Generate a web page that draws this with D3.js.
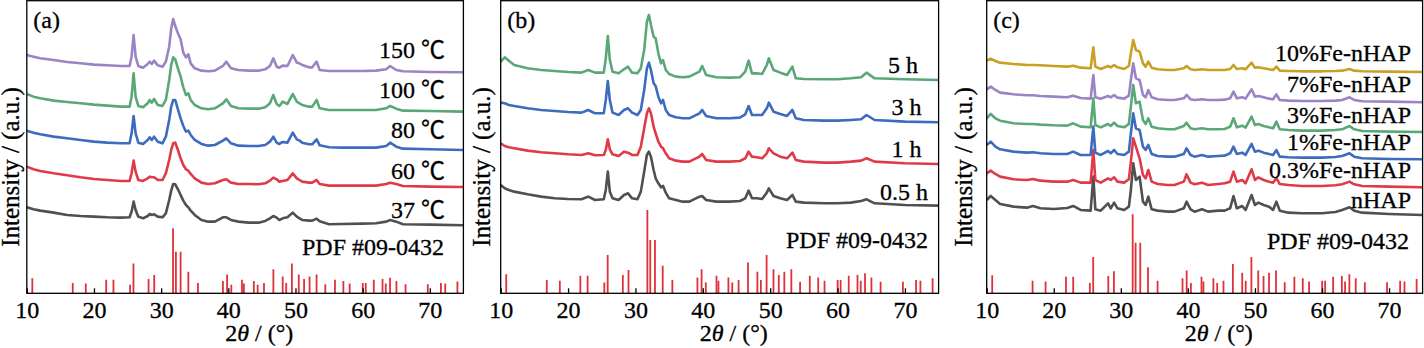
<!DOCTYPE html>
<html><head><meta charset="utf-8">
<script src="https://cdn.jsdelivr.net/npm/d3@7"></script>
<style>
html,body{margin:0;padding:0;background:#fff;}
svg{display:block;}
text{font-family:"Liberation Serif","Times New Roman","Noto Sans CJK SC",serif;fill:#000;stroke:#000;stroke-width:0.3px;}
</style></head><body>
<svg id="chart" width="1424" height="348"></svg>
<script>
// ---------------- DATA ----------------
const xTicks = [10, 20, 30, 40, 50, 60, 70];
const panelTags = ["(a)", "(b)", "(c)"];
const refLabel = "PDF #09-0432";

// Panel (a): synthesis temperature
const twoThetaA = [10,11,12,14,16,18,20,22,24,25.3,25.6,25.9,26.2,26.6,27.3,28.0,28.3,28.6,28.95,29.5,30.2,30.7,31.2,31.5,31.8,32.1,32.5,32.9,33.3,33.7,34.05,34.4,35,36,37,38,39.2,39.7,40.4,41.5,43,44.5,45.5,46.2,46.7,47.2,47.6,48.1,48.8,49.6,50.2,50.6,51,52,52.5,53.15,53.6,55,57,60,62,63.5,64.1,65,66,70,75];
const labelsA = ["37 \u2103", "60 \u2103", "80 \u2103", "100 \u2103", "150 \u2103"];
const a37 = [258,252,248,242,235,232,230,228,227,228,245,275,250,230,225,232,238,235,237,230,228,240,280,308,328,327,312,295,278,265,258,248,235,220,215,215,228,228,220,215,212,212,217,225,232,227,220,225,228,242,230,225,220,218,218,224,216,207,208,209,210,215,220,215,207,206,204];
const a60 = [380,372,367,360,354,348,343,340,337,337,360,398,365,340,337,345,350,348,348,340,340,360,400,430,450,452,430,405,385,372,368,358,345,332,328,330,340,342,332,328,328,327,330,338,347,342,335,337,340,360,345,340,335,332,332,340,328,323,323,323,323,328,332,328,322,320,319];
const a80 = [488,482,477,470,465,460,455,452,450,450,480,532,480,452,448,460,468,460,470,455,450,470,520,560,580,580,552,525,502,485,488,475,460,448,443,445,458,465,450,443,442,442,445,455,470,452,448,454,452,482,462,458,452,447,447,462,444,438,437,437,437,442,452,440,434,432,430];
const a100 = [598,590,585,578,574,570,566,563,560,560,590,660,590,562,558,570,580,572,583,565,562,580,640,685,708,702,675,650,618,595,600,580,565,555,552,555,570,582,562,555,554,554,558,570,595,568,562,575,568,598,575,570,565,560,560,580,555,550,550,550,550,555,562,554,548,547,545];
const a150 = [715,710,705,700,694,690,686,684,682,682,710,775,710,682,677,688,695,688,698,684,680,695,740,795,823,802,780,762,722,708,717,690,675,668,666,668,682,695,675,670,668,668,672,682,705,680,677,683,682,715,692,690,685,678,678,695,670,667,667,667,668,672,682,670,666,664,663];

// Panel (b): reaction time
const twoThetaB = [10,10.6,11.2,12,14,16,18,20,22,23,24,25.3,25.6,25.9,26.2,26.6,27.5,28.3,28.9,29.5,30.3,30.8,31.3,31.7,32.0,32.3,32.7,33.0,33.4,33.8,34.1,34.5,35,36,37,38,39.5,39.9,40.5,42,44,45.5,46.3,46.8,47.3,48,48.8,49.5,49.8,50.5,51.5,52.5,53.3,53.8,55,58,60,62,63.5,64.3,65.5,70,75];
const labelsB = ["0.5 h", "1 h", "3 h", "5 h"];
const b05 = [325,315,310,305,297,290,285,283,282,290,280,282,310,365,305,285,280,295,300,285,282,305,365,415,425,410,370,345,330,318,322,302,285,280,275,275,290,292,280,275,275,277,285,308,285,285,283,302,315,292,285,280,295,275,272,270,270,272,277,282,270,265,263];
const b1 = [450,442,438,435,428,423,420,417,415,420,414,415,430,462,432,417,412,425,422,415,415,440,495,540,555,540,500,480,455,440,435,420,405,398,395,395,410,418,400,395,395,397,405,425,410,408,405,420,435,420,410,405,422,400,395,392,392,395,398,405,395,390,388];
const b3 = [572,570,565,562,555,550,547,544,542,550,540,540,580,637,580,542,535,550,555,542,535,550,610,675,692,670,630,622,590,570,580,550,535,528,525,525,540,550,532,525,525,527,537,562,535,535,535,555,572,545,538,532,550,525,520,518,518,520,522,535,520,515,513];
const b5 = [695,708,698,685,675,670,667,664,662,670,662,662,705,772,700,665,660,672,680,662,660,675,730,815,835,805,770,765,720,690,700,670,658,650,648,650,665,682,655,648,647,648,665,698,660,660,658,685,705,670,662,655,680,645,643,642,642,645,648,662,645,642,640];

// Panel (c): Fe doping
const twoThetaC = [10,10.6,11.3,12,14,16,16.9,18,20,22,22.9,24,25.5,25.9,26.2,27,28.1,28.5,29.0,29.5,30.5,31.2,31.5,31.85,32.25,32.8,33.3,33.7,34.1,34.6,35.5,37,38,39.4,39.8,40.4,41,42.1,43,44.5,45.5,46.3,46.8,47.3,48.1,48.6,49.5,50.0,50.5,51.3,52.1,52.7,53.2,53.7,55,57,60,62,63,64.1,64.8,66,70,75];
const labelsC = ["nHAP", "0.3%Fe-nHAP", "1%Fe-nHAP", "3%Fe-nHAP", "7%Fe-nHAP", "10%Fe-nHAP"];
const c0 = [280,292,280,268,260,257,262,255,253,256,262,250,248,350,252,248,270,255,272,255,250,260,310,390,340,350,275,265,290,252,248,245,245,255,275,252,245,252,245,248,248,255,292,255,262,250,295,265,272,265,260,250,275,248,242,240,240,244,250,258,248,242,238,235];
const c03 = [360,368,358,350,342,340,343,338,335,335,340,332,332,430,340,332,345,340,348,335,332,342,395,465,440,405,355,345,370,335,328,325,325,335,357,332,327,332,325,328,330,335,365,335,340,330,372,340,348,340,335,332,345,328,325,322,322,324,327,335,327,322,320,318];
const c1 = [445,455,440,432,425,422,423,420,418,418,425,415,415,500,422,415,427,420,430,418,415,425,480,540,495,490,440,430,445,418,412,410,410,418,435,415,410,415,410,412,413,420,440,418,422,415,448,425,428,422,418,415,430,410,408,407,407,409,412,420,410,405,403,402];
const c3 = [525,538,525,518,510,508,508,506,504,503,510,500,498,585,505,498,508,502,512,502,498,508,560,625,570,575,520,508,525,500,495,492,492,502,512,495,492,495,492,492,493,500,525,498,503,497,530,505,508,502,498,495,515,492,490,488,488,490,492,502,492,487,485,484];
const c7 = [612,620,610,602,597,594,594,592,590,588,593,586,584,655,588,584,592,588,595,587,584,593,640,690,645,640,595,588,610,588,582,580,580,585,595,582,580,582,580,580,581,585,605,585,588,584,612,590,592,588,584,582,597,580,578,577,577,578,580,588,580,576,575,573];
const c10 = [698,704,697,692,688,685,685,684,682,680,683,677,675,738,680,673,682,678,685,678,673,682,720,760,730,725,690,680,695,677,672,670,670,675,682,672,670,672,670,670,670,673,685,673,675,672,692,677,678,675,672,670,680,668,667,666,666,667,668,673,668,666,665,664];

// Reference pattern PDF #09-0432 (relative intensity, %)
const pdfPositions = [10.82,16.84,18.78,21.82,22.90,25.38,25.88,28.13,28.97,31.77,32.20,32.90,34.05,35.48,39.20,39.82,40.45,42.03,42.32,43.80,44.37,45.31,46.71,48.10,48.62,49.47,50.49,51.28,52.10,53.14,54.44,55.88,57.13,58.07,60.02,60.46,61.66,62.96,63.44,64.08,65.03,66.39,69.70,71.65,72.30,74.11];
const pdfIntensities = [23,16,15,21,21,13,46,22,28,100,64,64,33,16,19,29,13,21,15,19,13,16,37,26,16,46,29,22,26,29,14,21,19,15,16,16,21,22,15,24,19,14,14,16,15,18];
// a.u. height of the 100 % reference line in each panel
const pdfFullScale = [195, 250, 237];

// ---------------- DRAWING ----------------
const svg = d3.select("#chart");
const colorsA = ["#505050", "#e03a48", "#3d6bbf", "#5aa877", "#9a84c3"];
const colorsB = ["#505050", "#e03a48", "#3d6bbf", "#5aa877"];
const colorsC = ["#505050", "#e03a48", "#3d6bbf", "#5aa877", "#9a84c3", "#c9a023"];
const stickColor = "#e0303a";

const panels = [
  { tag: panelTags[0], x0: 26.8, x1: 463.4, theta: twoThetaA, series: [a37, a60, a80, a100, a150], labels: labelsA, colors: colorsA,
    labelX: [445, 445, 445, 445, 445], labelY: [218.3, 179, 138.3, 98.3, 58.3], pdfX: 444, pdfY: 255, yTitleX: 18.5 },
  { tag: panelTags[1], x0: 500.7, x1: 938.6, theta: twoThetaB, series: [b05, b1, b3, b5], labels: labelsB, colors: colorsB,
    labelX: [928, 921.5, 921.5, 918], labelY: [200, 156.7, 115, 73.3], pdfX: 928, pdfY: 248.3, yTitleX: 490 },
  { tag: panelTags[2], x0: 986.7, x1: 1422.6, theta: twoThetaC, series: [c0, c03, c1, c3, c7, c10], labels: labelsC, colors: colorsC,
    labelX: [1411, 1411, 1411, 1411, 1411, 1411], labelY: [208.3, 178.3, 150, 122.7, 91.7, 61.3], pdfX: 1409, pdfY: 249, yTitleX: 972 }
];

const yBottom = 293.3, yTop = 0;
const y = d3.scaleLinear().domain([0, 880]).range([yBottom, yTop]);

panels.forEach((p, pi) => {
  const x = d3.scaleLinear().domain([10, 75]).range([p.x0, p.x1]);
  const g = svg.append("g");
  const clipId = "clip" + pi;
  svg.append("clipPath").attr("id", clipId).append("rect")
    .attr("x", p.x0).attr("y", 0.7).attr("width", p.x1 - p.x0).attr("height", yBottom - 0.7);

  // reference sticks
  const sy = d3.scaleLinear().domain([0, 100]).range([0, pdfFullScale[pi]]);
  g.append("g").attr("clip-path", `url(#${clipId})`)
    .selectAll("line").data(pdfPositions.map((t, i) => [t, pdfIntensities[i]])).join("line")
    .attr("x1", d => x(d[0])).attr("x2", d => x(d[0]))
    .attr("y1", y(0)).attr("y2", d => y(sy(d[1])))
    .attr("stroke", stickColor).attr("stroke-width", 1.8);

  // patterns
  const line = d3.line().x(d => x(d[0])).y(d => y(d[1]));
  const curves = g.append("g").attr("clip-path", `url(#${clipId})`);
  p.series.forEach((s, si) => {
    curves.append("path")
      .datum(p.theta.map((t, i) => [t, s[i]]))
      .attr("d", line)
      .attr("fill", "none")
      .attr("stroke", p.colors[si])
      .attr("stroke-width", 2.6)
      .attr("stroke-linejoin", "round");
  });

  // axis ticks + labels
  const ax = g.append("g").attr("transform", `translate(0,${yBottom})`)
    .call(d3.axisBottom(x).tickValues(xTicks).tickSizeInner(-5).tickSizeOuter(0).tickFormat(d3.format("d")));
  ax.select(".domain").remove();
  ax.selectAll(".tick line").attr("stroke", "#000").attr("stroke-width", 1.3);
  ax.selectAll(".tick text").attr("y", 25).attr("dy", null)
    .style("font-family", '"Liberation Serif","Times New Roman",serif').style("font-size", "24px").attr("fill", "#000");

  // frame
  g.append("rect").attr("x", p.x0).attr("y", 0.7).attr("width", p.x1 - p.x0).attr("height", yBottom - 0.7)
    .attr("fill", "none").attr("stroke", "#000").attr("stroke-width", 1.3);

  // panel tag
  g.append("text").attr("x", p.x0 + 6.5).attr("y", 27.5).style("font-size", "24px").text(p.tag);

  // series labels
  p.labels.forEach((lab, li) => {
    g.append("text").attr("x", p.labelX[li]).attr("y", p.labelY[li])
      .attr("text-anchor", "end").style("font-size", "24px").text(lab);
  });
  g.append("text").attr("x", p.pdfX).attr("y", p.pdfY).attr("text-anchor", "end")
    .style("font-size", "24px").text(refLabel);

  // x title
  const xt = g.append("text").attr("x", x(44.6)).attr("y", 341).attr("text-anchor", "middle").style("font-size", "24px");
  xt.append("tspan").text("2");
  xt.append("tspan").style("font-style", "italic").text("\u03B8");
  xt.append("tspan").text(" / (\u00B0)");

  // y title
  g.append("text").attr("transform", `translate(${p.yTitleX},${167}) rotate(-90)`)
    .attr("text-anchor", "middle").style("font-size", "25px").text("Intensity / (a.u.)");
});
</script></body></html>
